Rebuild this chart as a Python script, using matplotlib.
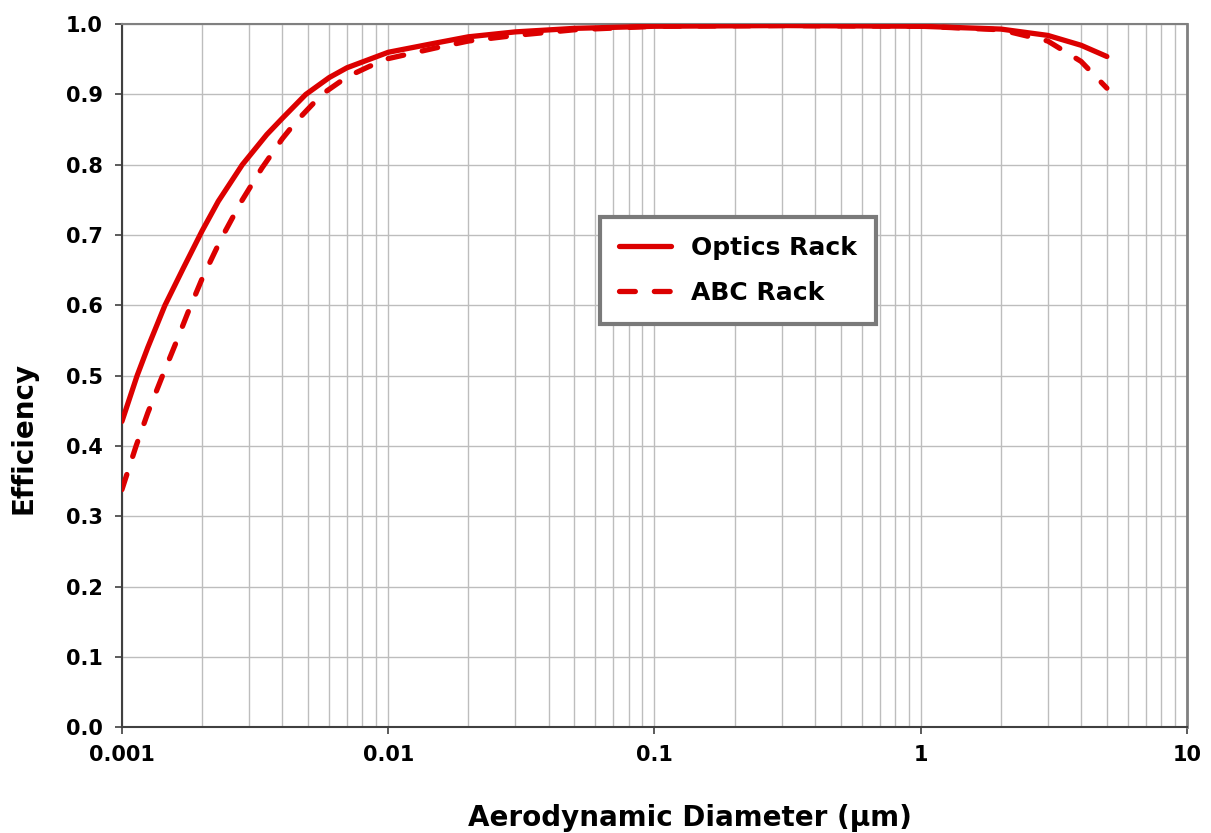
import matplotlib.pyplot as plt
from matplotlib.ticker import LogLocator, FixedLocator, NullFormatter

# values
optics_diameter = [0.001, 0.00114, 0.00125, 0.00145, 0.0017, 0.002, 0.0023,
                   0.00283, 0.0035, 0.004, 0.0049, 0.006, 0.007, 0.01, 0.015,
                   0.02, 0.03, 0.05, 0.1, 0.3, 1, 2, 3, 4, 5]
optics_rack = [0.435, 0.5, 0.54, 0.6, 0.653, 0.706, 0.748,
               0.8, 0.843, 0.866, 0.9, 0.924, 0.938, 0.960, 0.973,
               0.982, 0.989, 0.994, 0.997, 0.998, 0.997, 0.993, 0.984, 0.970, 0.954]

abc_diameter = [0.001, 0.00113, 0.00125, 0.00141, 0.0016, 0.00177, 0.002,
                0.00236, 0.0028, 0.00335, 0.004, 0.0045, 0.00563, 0.007, 0.0085,
                0.01, 0.015, 0.02, 0.03, 0.05, 0.1, 0.3, 1, 2, 3, 4, 5]
abc_rack = [0.338, 0.4, 0.447, 0.497, 0.548, 0.59, 0.638,
            0.695, 0.747, 0.795, 0.837, 0.861, 0.9, 0.925, 0.940,
            0.951, 0.966, 0.976, 0.984, 0.992, 0.997, 0.998, 0.997, 0.992,
            0.976, 0.947, 0.909]

x_ticks = [0.001, 0.01, 0.1, 1, 10]
x_tick_labels = ["0.001", "0.01", "0.1", "1", "10"]
y_ticks = [0.0, 0.1, 0.2, 0.3, 0.4, 0.5, 0.6, 0.7, 0.8, 0.9, 1.0]

red = "#dc0000"

fig = plt.figure(figsize=(12.11, 8.33), dpi=100)
ax = fig.add_axes([0.1007, 0.127, 0.8795, 0.844])

ax.plot(optics_diameter, optics_rack, color=red, linewidth=3.8,
        solid_capstyle="round", solid_joinstyle="round", label="Optics Rack", zorder=3)
ax.plot(abc_diameter, abc_rack, color=red, linewidth=3.8, linestyle=(0, (3.0, 3.6)),
        dash_capstyle="round", dash_joinstyle="round", label="ABC Rack", zorder=3)

ax.set_xscale("log")
ax.set_xlim(0.001, 10)
ax.set_ylim(0, 1.0)

ax.xaxis.set_major_locator(FixedLocator(x_ticks))
ax.set_xticklabels(x_tick_labels)
ax.xaxis.set_minor_locator(LogLocator(base=10, subs=range(2, 10)))
ax.xaxis.set_minor_formatter(NullFormatter())
ax.set_yticks(y_ticks)
ax.set_yticklabels([f"{v:.1f}" for v in y_ticks])

ax.grid(True, which="major", axis="both", color="#bdbdbd", linewidth=1.0)
ax.grid(True, which="minor", axis="x", color="#bdbdbd", linewidth=1.0)
ax.set_axisbelow(True)

ax.tick_params(axis="both", which="major", direction="out", length=5,
               width=1.2, color="#404040", labelsize=15)
ax.tick_params(axis="y", which="major", pad=9)
ax.tick_params(axis="x", which="major", pad=8)
ax.tick_params(axis="x", which="minor", length=0)
for lbl in ax.get_xticklabels() + ax.get_yticklabels():
    lbl.set_fontweight("bold")

ax.spines["left"].set_color("#404040")
ax.spines["bottom"].set_color("#404040")
ax.spines["left"].set_linewidth(1.5)
ax.spines["bottom"].set_linewidth(1.5)
ax.spines["top"].set_color("#808080")
ax.spines["right"].set_color("#808080")
ax.spines["top"].set_linewidth(1.5)
ax.spines["right"].set_linewidth(2.0)

ax.set_xlabel("Aerodynamic Diameter (\u00b5m)", fontsize=20, fontweight="bold")
ax.set_ylabel("Efficiency", fontsize=20, fontweight="bold")
ax.xaxis.set_label_coords(0.533, -0.129)
ax.xaxis.label.set_va("center")
ax.yaxis.set_label_coords(-0.092, 0.412)
ax.yaxis.label.set_va("center")

leg = ax.legend(loc="upper left", bbox_to_anchor=(0.4488, 0.7255),
                prop={"weight": "bold", "size": 18}, frameon=True, fancybox=False,
                handlelength=2.1, handletextpad=0.8, borderpad=0.75,
                labelspacing=0.85, borderaxespad=0)
leg.get_frame().set_edgecolor("#7a7a7a")
leg.get_frame().set_linewidth(3.0)
leg.get_frame().set_alpha(1.0)

fig.savefig("out.png", dpi=100)
